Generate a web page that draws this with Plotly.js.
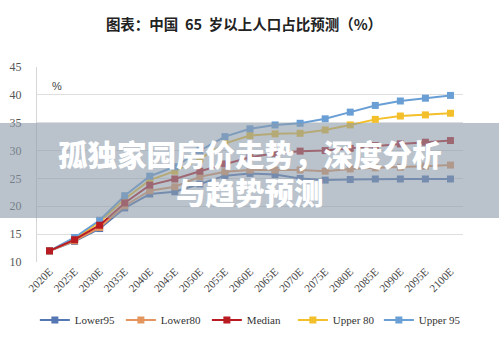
<!DOCTYPE html>
<html>
<head>
<meta charset="utf-8">
<script src="https://cdn.plot.ly/plotly-3.0.1.min.js"></script>
<style>html,body{margin:0;padding:0;background:#fff;}#chart{width:499px;height:342px;}</style>
</head>
<body>
<div id="chart"></div>
<script>
const years = ["2020E","2025E","2030E","2035E","2040E","2045E","2050E","2055E","2060E","2065E","2070E","2075E","2080E","2085E","2090E","2095E","2100E"];
const lower95 = [12.0,13.7,16.0,19.7,22.2,22.6,24.0,25.5,25.9,25.7,25.0,24.7,24.8,24.9,24.9,24.9,24.9];
const lower80 = [12.0,13.8,16.2,20.1,22.8,23.5,25.3,26.2,26.5,26.5,26.5,26.3,26.7,26.9,27.0,27.2,27.4];
const median  = [12.0,14.0,16.6,20.6,23.8,24.9,26.3,27.6,28.8,29.5,29.9,30.0,30.4,30.9,31.2,31.5,31.8];
const upper80 = [12.0,14.2,17.2,21.3,24.7,26.3,28.5,31.3,32.7,33.0,33.1,33.7,34.6,35.6,36.2,36.4,36.7];
const upper95 = [12.0,14.4,17.5,21.9,25.4,27.1,30.0,32.5,33.9,34.6,34.9,35.7,36.9,38.1,38.9,39.4,39.9];
const seriesNames = ["Lower95","Lower80","Median","Upper 80","Upper 95"];
const chartTitle = "图表：中国  65  岁以上人口占比预测（%）";
const bannerText = "孤独家园房价走势，深度分析<br>与趋势预测";

const serif = "Liberation Serif, Times New Roman, serif";
const colors = ["#5577b4","#e5965e","#b81c22","#f3bf2a","#6a9fd6"];
const data = [lower95, lower80, median, upper80, upper95];
const ranks = [1,2,3,4,5];
const order = [0,1,3,4,2];
const traces = order.map(i => ({
  type: "scatter", mode: "lines+markers",
  x: years, y: data[i], name: seriesNames[i], legendrank: ranks[i],
  line: {color: colors[i], width: 2},
  marker: {symbol: "square", size: 7, color: colors[i]}
}));

const layout = {
  width: 499, height: 342,
  margin: {l: 37, r: 36, t: 67, b: 80, autoexpand: false},
  paper_bgcolor: "#fff", plot_bgcolor: "#fff",
  title: {text: chartTitle, x: 0.489, xanchor: "center", y: 0.927, yanchor: "middle",
    font: {family: "Noto Sans CJK SC", size: 14.5, color: "#222", weight: 700}},
  xaxis: {type: "category", tickangle: -45, showgrid: false, showline: false, zeroline: false,
    range: [-0.5, 16.5], ticks: "", automargin: false,
    tickfont: {family: serif, size: 11, color: "#444"}},
  yaxis: {range: [10, 45], dtick: 5, tick0: 10, showgrid: true, gridcolor: "#dedede", gridwidth: 1,
    showline: true, linecolor: "#d6d6d6", linewidth: 1, zeroline: false, ticks: "",
    ticklabelstandoff: 12, automargin: false,
    tickfont: {family: serif, size: 12, color: "#555"}},
  showlegend: true,
  legend: {orientation: "h", x: -0.005, xanchor: "left", y: -0.297, yanchor: "middle",
    font: {family: serif, size: 11, color: "#333"}, itemwidth: 30, entrywidth: 41,
    entrywidthmode: "pixels", traceorder: "normal"},
  shapes: [{type: "rect", xref: "paper", yref: "paper", x0: -0.12, x1: 1.12, y0: 0.2256, y1: 0.7128,
    fillcolor: "rgba(140,155,170,0.6)", line: {width: 0}, layer: "above"}],
  annotations: [
    {text: "%", xref: "paper", yref: "paper", x: 0.0305, y: 0.9436, showarrow: false,
      font: {family: "Liberation Sans", size: 11, color: "#444"}},
    {text: bannerText, xref: "paper", yref: "paper", x: 0.5, y: 0.464, showarrow: false,
      xanchor: "center", yanchor: "middle", align: "center",
      font: {family: "Noto Sans CJK SC", size: 29.5, color: "#fff", weight: 900}}
  ]
};
Plotly.newPlot("chart", traces, layout, {displayModeBar: false, staticPlot: true});
</script>
</body>
</html>
